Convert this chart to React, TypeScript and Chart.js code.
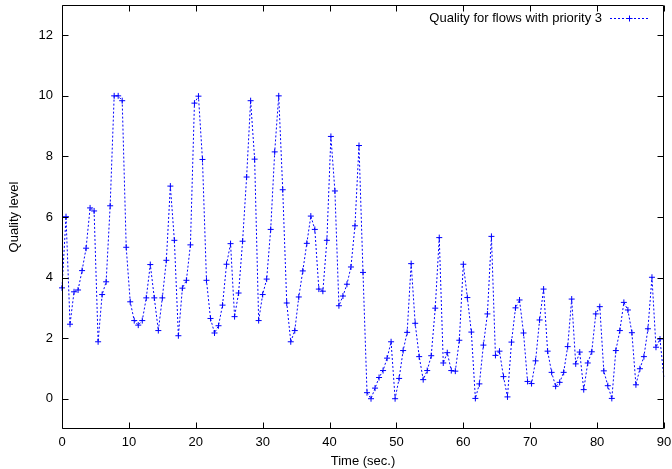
import { useEffect, useRef } from 'react';
import { Chart, registerables } from 'chart.js';

Chart.register(...registerables);

// Time stamps (seconds)
const times = [
  0, 0.6, 1.2, 1.8, 2.4, 3, 3.6, 4.2, 4.8, 5.4, 6, 6.6, 7.2, 7.8, 8.4, 9, 9.6, 10.2, 10.8, 11.4,
  12, 12.6, 13.2, 13.8, 14.4, 15, 15.6, 16.2, 16.8, 17.4, 18, 18.6, 19.2, 19.8, 20.4, 21, 21.6, 22.2, 22.8, 23.4,
  24, 24.6, 25.2, 25.8, 26.4, 27, 27.6, 28.2, 28.8, 29.4, 30, 30.6, 31.2, 31.8, 32.4, 33, 33.6, 34.2, 34.8, 35.4,
  36, 36.6, 37.2, 37.8, 38.4, 39, 39.6, 40.2, 40.8, 41.4, 42, 42.6, 43.2, 43.8, 44.4, 45, 45.6, 46.2, 46.8, 47.4,
  48, 48.6, 49.2, 49.8, 50.4, 51, 51.6, 52.2, 52.8, 53.4, 54, 54.6, 55.2, 55.8, 56.4, 57, 57.6, 58.2, 58.8, 59.4,
  60, 60.6, 61.2, 61.8, 62.4, 63, 63.6, 64.2, 64.8, 65.4, 66, 66.6, 67.2, 67.8, 68.4, 69, 69.6, 70.2, 70.8, 71.4,
  72, 72.6, 73.2, 73.8, 74.4, 75, 75.6, 76.2, 76.8, 77.4, 78, 78.6, 79.2, 79.8, 80.4, 81, 81.6, 82.2, 82.8, 83.4,
  84, 84.6, 85.2, 85.8, 86.4, 87, 87.6, 88.2, 88.8, 89.4, 90,
];

// Quality level for flows with priority 3
const quality = [
  3.66, 6.01, 2.46, 3.53, 3.59, 4.23, 4.97, 6.3, 6.2, 1.88, 3.44, 3.86, 6.37, 10.0, 10.0, 9.84, 5.0, 3.2, 2.58, 2.43,
  2.58, 3.33, 4.43, 3.33, 2.25, 3.33, 4.57, 7.02, 5.23, 2.08, 3.65, 3.91, 5.08, 9.76, 9.99, 7.9, 3.91, 2.65, 2.17, 2.41,
  3.09, 4.44, 5.12, 2.71, 3.49, 5.2, 7.32, 9.84, 7.91, 2.58, 3.44, 3.95, 5.59, 8.15, 10.0, 6.9, 3.16, 1.88, 2.25, 3.36,
  4.22, 5.13, 6.03, 5.59, 3.62, 3.55, 5.23, 8.66, 6.86, 3.07, 3.39, 3.78, 4.35, 5.71, 8.36, 4.17, 0.2, 0.0, 0.35, 0.7,
  0.93, 1.34, 1.88, 0.0, 0.67, 1.59, 2.19, 4.46, 2.49, 1.39, 0.63, 0.93, 1.42, 2.99, 5.32, 1.18, 1.52, 0.93, 0.91, 1.93,
  4.44, 3.34, 2.2, 0.01, 0.49, 1.77, 2.8, 5.36, 1.43, 1.57, 0.73, 0.06, 1.87, 3.0, 3.26, 2.17, 0.57, 0.5, 1.25, 2.6,
  3.62, 1.57, 0.87, 0.41, 0.54, 0.87, 1.72, 3.29, 1.15, 1.54, 0.3, 1.18, 1.55, 2.8, 3.04, 0.92, 0.43, 0.01, 1.59, 2.25,
  3.18, 2.93, 2.18, 0.46, 0.99, 1.39, 2.31, 4.01, 1.7, 1.97, 0.65,
];

const xTicks = [0, 10, 20, 30, 40, 50, 60, 70, 80, 90];
const yTicks = [0, 2, 4, 6, 8, 10, 12];
const seriesLabel = 'Quality for flows with priority 3';
const xTitle = 'Time (sec.)';
const yTitle = 'Quality level';

const FONT = "'Liberation Sans', Arial, Helvetica, sans-serif";
const BLUE = '#0000ff';
const FONT_SIZE = 13;

export default function App() {
  const ref = useRef<HTMLCanvasElement>(null);

  useEffect(() => {
    document.body.style.margin = '0';
    const canvas = ref.current;
    if (!canvas) return;

    const framePlugin = {
      id: 'gnuplotFrame',
      afterDatasetsDraw(chart: any) {
        const { ctx, chartArea: a, scales } = chart;
        const L = Math.round(a.left) + 0.5;
        const R = Math.round(a.right) - 0.5;
        const T = Math.round(a.top) + 0.5;
        const B = Math.round(a.bottom) - 0.5;
        const tl = 6;
        ctx.save();
        ctx.strokeStyle = '#000';
        ctx.lineWidth = 1;
        ctx.setLineDash([]);
        ctx.beginPath();
        ctx.rect(L, T, R - L, B - T);
        ctx.stroke();
        ctx.beginPath();
        for (const v of xTicks) {
          const px = Math.round(scales.x.getPixelForValue(v)) + 0.5;
          ctx.moveTo(px, B);
          ctx.lineTo(px, B - tl);
          ctx.moveTo(px, T);
          ctx.lineTo(px, T + tl);
        }
        for (const v of yTicks) {
          const py = Math.round(scales.y.getPixelForValue(v)) + 0.5;
          ctx.moveTo(L, py);
          ctx.lineTo(L + tl, py);
          ctx.moveTo(R, py);
          ctx.lineTo(R - tl, py);
        }
        ctx.stroke();
        ctx.restore();
      },
      afterDraw(chart: any) {
        const { ctx, chartArea: a } = chart;
        const ds = chart.data.datasets[0];
        const ty = a.top + 13;
        const textRight = a.right - 62;
        ctx.save();
        ctx.font = `${FONT_SIZE}px ${FONT}`;
        ctx.fillStyle = '#000';
        ctx.textAlign = 'right';
        ctx.textBaseline = 'middle';
        ctx.fillText(ds.label, textRight, ty);
        const x0 = textRight + 8;
        const x1 = textRight + 46;
        const ly = Math.round(ty) + 0.5;
        ctx.strokeStyle = BLUE;
        ctx.lineWidth = 1;
        ctx.setLineDash([2, 2]);
        ctx.beginPath();
        ctx.moveTo(x0, ly);
        ctx.lineTo(x1, ly);
        ctx.stroke();
        ctx.setLineDash([]);
        const cx = Math.round((x0 + x1) / 2) + 0.5;
        ctx.beginPath();
        ctx.moveTo(cx - 3, ly);
        ctx.lineTo(cx + 3, ly);
        ctx.moveTo(cx, ly - 3);
        ctx.lineTo(cx, ly + 3);
        ctx.stroke();
        ctx.restore();
      },
    };

    const chart = new Chart(canvas, {
      type: 'line',
      data: {
        datasets: [
          {
            label: seriesLabel,
            data: times.map((t, i) => ({ x: t, y: quality[i] })),
            borderColor: BLUE,
            backgroundColor: BLUE,
            borderWidth: 1,
            borderDash: [2, 2],
            pointStyle: 'cross',
            pointRadius: (c: any) => (c.dataIndex === times.length - 1 ? 0 : 3),
            pointBorderColor: BLUE,
            pointBorderWidth: 1,
            fill: false,
            tension: 0,
            clip: false,
          },
        ],
      },
      options: {
        responsive: false,
        animation: false,
        devicePixelRatio: 1,
        events: [],
        layout: { padding: { top: 5, right: 8, left: 0, bottom: 0 } },
        plugins: { legend: { display: false }, tooltip: { enabled: false } },
        scales: {
          x: {
            type: 'linear',
            min: 0,
            max: 90,
            afterBuildTicks: (s: any) => {
              s.ticks = xTicks.map((v) => ({ value: v }));
            },
            afterFit: (s: any) => {
              s.height = 40;
              s.paddingLeft = 0;
              s.paddingRight = 0;
            },
            grid: { display: false, drawTicks: false },
            border: { display: false },
            ticks: {
              color: '#000',
              font: { family: FONT, size: FONT_SIZE },
              padding: 6,
              maxRotation: 0,
              autoSkip: false,
            },
            title: {
              display: true,
              text: xTitle,
              color: '#000',
              font: { family: FONT, size: FONT_SIZE },
              padding: { top: 0, bottom: 0 },
            },
          },
          y: {
            type: 'linear',
            min: -1,
            max: 13,
            afterBuildTicks: (s: any) => {
              s.ticks = yTicks.map((v) => ({ value: v }));
            },
            afterFit: (s: any) => {
              s.width = 62;
              s.paddingTop = 0;
              s.paddingBottom = 0;
            },
            grid: { display: false, drawTicks: false },
            border: { display: false },
            ticks: {
              color: '#000',
              font: { family: FONT, size: FONT_SIZE },
              padding: 9,
              autoSkip: false,
            },
            title: {
              display: true,
              text: yTitle,
              color: '#000',
              font: { family: FONT, size: FONT_SIZE },
              padding: { top: 7, bottom: 0 },
            },
          },
        },
      },
      plugins: [framePlugin],
    } as any);

    return () => chart.destroy();
  }, []);

  return <canvas ref={ref} width={672} height={469} style={{ display: 'block' }} />;
}
